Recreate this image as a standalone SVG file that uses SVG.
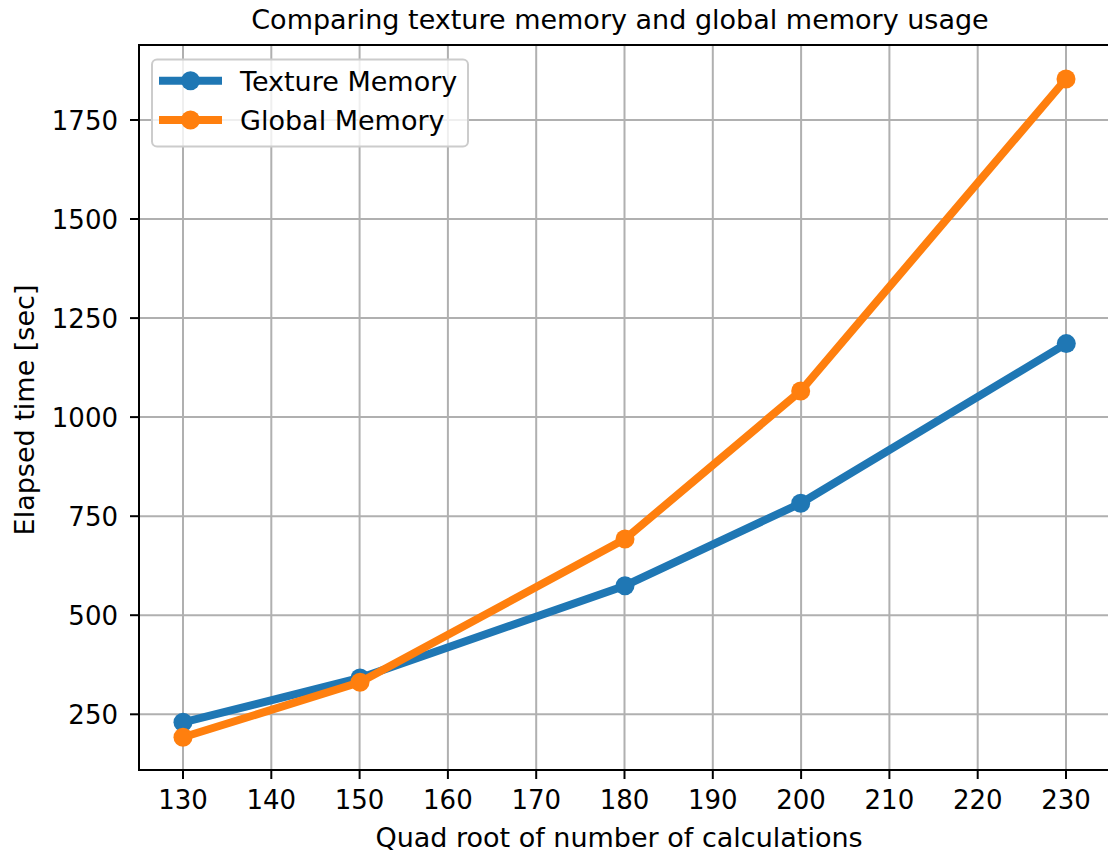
<svg xmlns="http://www.w3.org/2000/svg" width="1108" height="855" viewBox="0 0 1108 855">
<style>
text{font-family:"DejaVu Sans",sans-serif;fill:#000;font-size:26px}
.lbl{font-size:27px}
.leg{font-size:27px}
.grid line{stroke:#b0b0b0;stroke-width:2}
.tick line{stroke:#000;stroke-width:2}
.blue{stroke:#1f77b4;fill:none;stroke-width:8;stroke-linejoin:round;stroke-linecap:butt}
.orange{stroke:#ff7f0e;fill:none;stroke-width:8;stroke-linejoin:round;stroke-linecap:butt}
.bm{fill:#1f77b4}
.om{fill:#ff7f0e}
</style>
<rect width="1108" height="855" fill="#fff"/>
<text class="lbl" x="620" y="29" text-anchor="middle">Comparing texture memory and global memory usage</text>
<g class="grid">
<line x1="183" y1="45" x2="183" y2="770"/>
<line x1="271.3" y1="45" x2="271.3" y2="770"/>
<line x1="359.6" y1="45" x2="359.6" y2="770"/>
<line x1="447.9" y1="45" x2="447.9" y2="770"/>
<line x1="536.2" y1="45" x2="536.2" y2="770"/>
<line x1="624.5" y1="45" x2="624.5" y2="770"/>
<line x1="712.8" y1="45" x2="712.8" y2="770"/>
<line x1="801.1" y1="45" x2="801.1" y2="770"/>
<line x1="889.4" y1="45" x2="889.4" y2="770"/>
<line x1="977.7" y1="45" x2="977.7" y2="770"/>
<line x1="1066" y1="45" x2="1066" y2="770"/>
<line x1="139" y1="714.3" x2="1108" y2="714.3"/>
<line x1="139" y1="615.2" x2="1108" y2="615.2"/>
<line x1="139" y1="516.2" x2="1108" y2="516.2"/>
<line x1="139" y1="417.1" x2="1108" y2="417.1"/>
<line x1="139" y1="318.1" x2="1108" y2="318.1"/>
<line x1="139" y1="219" x2="1108" y2="219"/>
<line x1="139" y1="120" x2="1108" y2="120"/>
</g>
<g id="series">
<polyline class="blue" points="183,722.3 360,678 625,585.7 800.7,503.3 1066.3,343.6"/>
<g class="bm">
<circle cx="183" cy="722.3" r="9.5"/><circle cx="360" cy="678" r="9.5"/><circle cx="625" cy="585.7" r="9.5"/><circle cx="800.7" cy="503.3" r="9.5"/><circle cx="1066.3" cy="343.6" r="9.5"/>
</g>
<polyline class="orange" points="183,737.3 360,682.3 625,539 800.7,391 1066,79"/>
<g class="om">
<circle cx="183" cy="737.3" r="9.5"/><circle cx="360" cy="682.3" r="9.5"/><circle cx="625" cy="539" r="9.5"/><circle cx="800.7" cy="391" r="9.5"/><circle cx="1066" cy="79" r="9.5"/>
</g>
</g>
<g id="axes" stroke="#000" stroke-width="2" fill="none">
<line x1="139" y1="45" x2="139" y2="771"/>
<line x1="138" y1="770" x2="1108" y2="770"/>
<line x1="138" y1="45" x2="1108" y2="45"/>
</g>
<g class="tick">
<line x1="183" y1="770" x2="183" y2="779"/>
<line x1="271.3" y1="770" x2="271.3" y2="779"/>
<line x1="359.6" y1="770" x2="359.6" y2="779"/>
<line x1="447.9" y1="770" x2="447.9" y2="779"/>
<line x1="536.2" y1="770" x2="536.2" y2="779"/>
<line x1="624.5" y1="770" x2="624.5" y2="779"/>
<line x1="712.8" y1="770" x2="712.8" y2="779"/>
<line x1="801.1" y1="770" x2="801.1" y2="779"/>
<line x1="889.4" y1="770" x2="889.4" y2="779"/>
<line x1="977.7" y1="770" x2="977.7" y2="779"/>
<line x1="1066" y1="770" x2="1066" y2="779"/>
<line x1="130" y1="714.3" x2="139" y2="714.3"/>
<line x1="130" y1="615.2" x2="139" y2="615.2"/>
<line x1="130" y1="516.2" x2="139" y2="516.2"/>
<line x1="130" y1="417.1" x2="139" y2="417.1"/>
<line x1="130" y1="318.1" x2="139" y2="318.1"/>
<line x1="130" y1="219" x2="139" y2="219"/>
<line x1="130" y1="120" x2="139" y2="120"/>
</g>
<g id="xticklabels">
<text x="183" y="809" text-anchor="middle">130</text>
<text x="271.3" y="809" text-anchor="middle">140</text>
<text x="359.6" y="809" text-anchor="middle">150</text>
<text x="447.9" y="809" text-anchor="middle">160</text>
<text x="536.2" y="809" text-anchor="middle">170</text>
<text x="624.5" y="809" text-anchor="middle">180</text>
<text x="712.8" y="809" text-anchor="middle">190</text>
<text x="801.1" y="809" text-anchor="middle">200</text>
<text x="889.4" y="809" text-anchor="middle">210</text>
<text x="977.7" y="809" text-anchor="middle">220</text>
<text x="1066" y="809" text-anchor="middle">230</text>
</g>
<g id="yticklabels">
<text x="118" y="724" text-anchor="end">250</text>
<text x="118" y="625" text-anchor="end">500</text>
<text x="118" y="526" text-anchor="end">750</text>
<text x="118" y="427" text-anchor="end">1000</text>
<text x="118" y="328" text-anchor="end">1250</text>
<text x="118" y="228.5" text-anchor="end">1500</text>
<text x="118" y="129.5" text-anchor="end">1750</text>
</g>
<text class="lbl" x="619" y="847" text-anchor="middle">Quad root of number of calculations</text>
<text class="lbl" transform="translate(34,410) rotate(-90)" text-anchor="middle">Elapsed time [sec]</text>
<g id="legend">
<rect x="152" y="59.5" width="316" height="87" rx="5" fill="#fff" fill-opacity="0.8" stroke="#cccccc" stroke-width="2"/>
<line x1="159" y1="80.7" x2="222" y2="80.7" class="blue"/>
<circle cx="190.5" cy="80.7" r="9.5" class="bm"/>
<text class="leg" x="240" y="90.5">Texture Memory</text>
<line x1="159" y1="120" x2="222" y2="120" class="orange"/>
<circle cx="190.5" cy="120" r="9.5" class="om"/>
<text class="leg" x="240" y="130">Global Memory</text>
</g>
</svg>
